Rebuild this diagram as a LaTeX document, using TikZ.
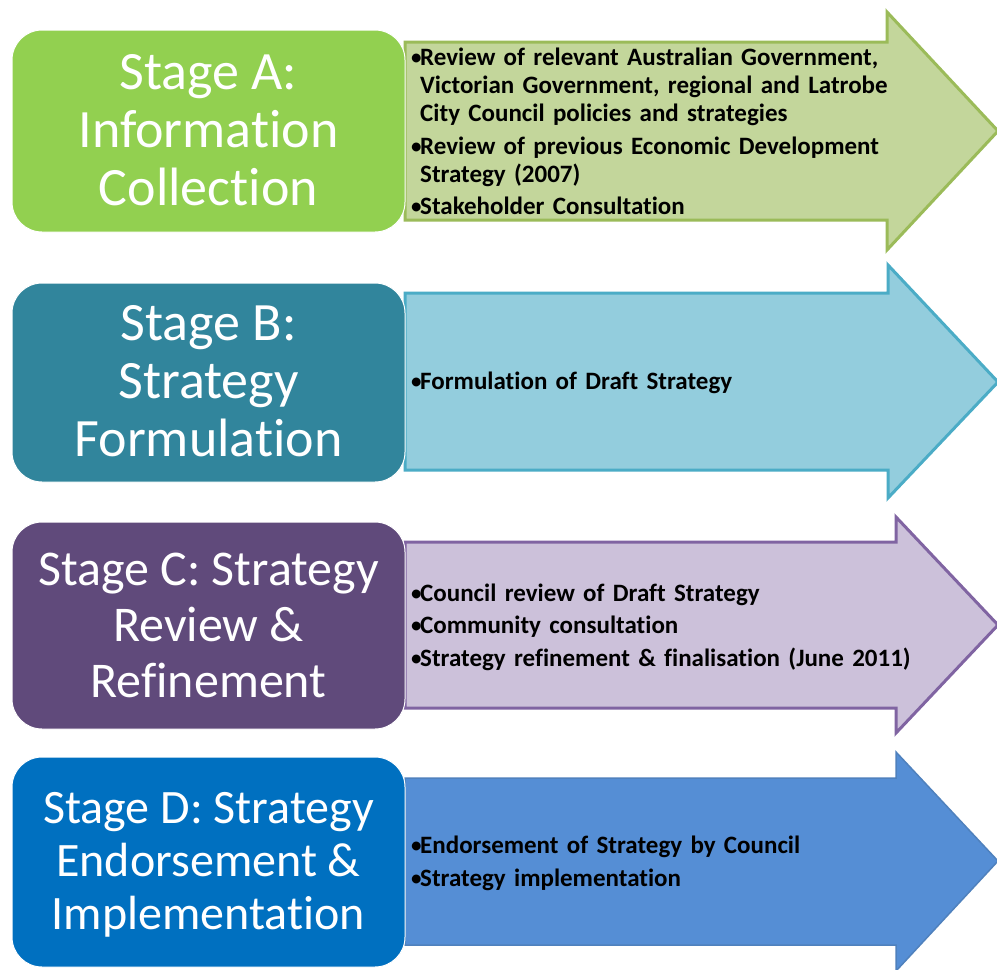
\documentclass[tikz,border=0pt]{standalone}
\usepackage{fontspec}
\setmainfont{Carlito}[Ligatures={NoCommon}]
\definecolor{boxA}{HTML}{92D050}
\definecolor{arrA}{HTML}{C3D69B}
\definecolor{brdA}{HTML}{9BBB59}
\definecolor{boxB}{HTML}{31859C}
\definecolor{arrB}{HTML}{93CDDD}
\definecolor{brdB}{HTML}{4BACC6}
\definecolor{boxC}{HTML}{604A7B}
\definecolor{arrC}{HTML}{CCC1DA}
\definecolor{brdC}{HTML}{8064A2}
\definecolor{boxD}{HTML}{0070C0}
\definecolor{arrD}{HTML}{558ED5}
\definecolor{brdD}{HTML}{4F81BD}
\newlength\bulw
\setlength\bulw{10pt}
\newcommand\bitem[1]{\par\hangindent=\bulw\hangafter=1\noindent\makebox[\bulw][l]{\mdseries•}#1\par}
\tikzset{
  stagebox/.style={rectangle, rounded corners=30pt, draw=white, line width=1pt,
    minimum width=393pt, inner sep=0pt},
  stagetext/.style={inner sep=0pt, text=white, align=center},
  arrowshape/.style={line width=3pt, line join=miter},
  bodytext/.style={anchor=west, inner sep=0pt, text width=575pt, text=black,
    font=\bfseries\fontsize{25}{28}\selectfont},
}
\begin{document}
\begin{tikzpicture}[x=1pt,y=-1pt]
\useasboundingbox (0,0) rectangle (997,970);
\fill[white] (0,0) rectangle (997,970);
% arrows
\draw[arrowshape, draw=brdA, fill=arrA] (405,42) -- (887,42) -- (887,12) -- (998,131) -- (887,250) -- (887,220) -- (405,220) -- cycle;
\draw[arrowshape, draw=brdB, fill=arrB] (405,293) -- (888,293) -- (888,265) -- (998,382) -- (888,498) -- (888,470) -- (405,470) -- cycle;
\draw[arrowshape, draw=brdC, fill=arrC] (405,542) -- (896,542) -- (896,517) -- (998,625) -- (896,733) -- (896,708) -- (405,708) -- cycle;
\draw[arrowshape, draw=brdD, fill=arrD, line width=1.5pt] (405,778) -- (896,778) -- (896,752) -- (998,861) -- (896,971) -- (896,945) -- (405,945) -- cycle;
% stage boxes
\node[stagebox, fill=boxA, minimum height=202pt] (sa) at (208.5,131) {};
\node[stagebox, fill=boxB, minimum height=199pt] (sb) at (208.5,382.5) {};
\node[stagebox, fill=boxC, minimum height=207pt] (sc) at (208.5,625.5) {};
\node[stagebox, fill=boxD, minimum height=210pt] (sd) at (208.5,862) {};
\node[stagetext, font=\fontsize{54}{58}\selectfont] (sat) at (208.5,130) {Stage A:\\Information\\Collection};
\node[stagetext, font=\fontsize{54}{58}\selectfont] (sbt) at (208.5,381) {Stage B:\\Strategy\\Formulation};
\node[stagetext, font=\fontsize{50}{56}\selectfont] (sct) at (208.5,625) {Stage C: Strategy\\Review \&\\Refinement};
\node[stagetext, font=\fontsize{48}{53}\selectfont] (sdt) at (208.5,865) {Stage D: Strategy\\Endorsement \&\\Implementation};
% body texts
\node[bodytext] (ta) at (410,124) {\raggedright\setlength\parskip{4.5pt}%
\bitem{Review of relevant Australian Government,\newline Victorian Government, regional and Latrobe\newline City Council policies and strategies}
\bitem{Review of previous Economic Development\newline Strategy (2007)}
\bitem{Stakeholder Consultation}};
\node[bodytext] (tb) at (410,378) {\raggedright\bitem{Formulation of Draft Strategy}};
\node[bodytext] (tc) at (410,619.5) {\raggedright\setlength\parskip{4.5pt}%
\bitem{Council review of Draft Strategy}
\bitem{Community consultation}
\bitem{Strategy refinement \& finalisation (June 2011)}};
\node[bodytext] (td) at (410,856) {\raggedright\setlength\parskip{4.5pt}%
\bitem{Endorsement of Strategy by Council}
\bitem{Strategy implementation}};
\end{tikzpicture}
\end{document}
